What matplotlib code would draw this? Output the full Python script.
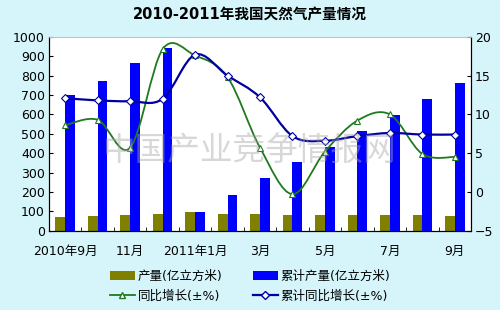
import matplotlib
matplotlib.use("Agg")
import matplotlib.pyplot as plt
from matplotlib.path import Path
from matplotlib.patches import PathPatch
from matplotlib.lines import Line2D
from matplotlib.patches import Patch
import numpy as np

plt.rcParams['font.family'] = ['DejaVu Sans', 'Noto Sans CJK SC']

months = ["2010年9月", "10月", "11月", "12月", "2011年1月", "2月", "3月", "4月",
          "5月", "6月", "7月", "8月", "9月"]
output = [72, 76, 83, 88, 96, 88, 86, 83, 83, 83, 83, 83, 76]
cumulative = [700, 773, 866, 945, 96, 184, 272, 356, 430, 515, 599, 682, 764]
yoy = [8.6, 9.3, 5.7, 18.4, 17.6, 14.8, 5.7, -0.3, 5.2, 9.2, 10.0, 4.9, 4.5]
cum_yoy = [12.1, 11.8, 11.7, 12.0, 17.7, 15.0, 12.2, 7.2, 6.6, 7.2, 7.6, 7.4, 7.4]

bg = '#d6f5fa'
fig = plt.figure(figsize=(5, 3.1), dpi=100, facecolor=bg)
ax = fig.add_axes([0.098, 0.256, 0.844, 0.625])
ax.set_facecolor('white')
ax2 = ax.twinx()

x = np.arange(len(months))
w = 0.3
ax.bar(x - w / 2, output, width=w, color='#808000', zorder=2)
ax.bar(x + w / 2, cumulative, width=w, color='#0000ff', zorder=2)

ax.set_xlim(-0.5, len(months) - 0.5)
ax.set_ylim(0, 1000)
ax.set_yticks(range(0, 1001, 100))
ax2.set_ylim(-5, 20)
ax2.set_yticks(range(-5, 21, 5))

ax.set_xticks(x[::2])
ax.set_xticklabels([months[i] for i in x[::2]])
ax.set_xticks(np.arange(-0.5, len(months), 1), minor=True)
ax.tick_params(axis='x', which='major', length=0, labelsize=9, pad=10)
ax.tick_params(axis='x', which='minor', length=3, direction='in')
ax.tick_params(axis='y', length=3, direction='in', labelsize=9, pad=3)
ax2.tick_params(axis='y', length=3, direction='in', labelsize=9, pad=3)

for a in (ax, ax2):
    a.spines['top'].set_color('#c0c0c0')
    a.spines['top'].set_linewidth(0.6)
    for s in ('left', 'right', 'bottom'):
        a.spines[s].set_color('black')
        a.spines[s].set_linewidth(0.8)


def smooth_path(xs, ys):
    pts = np.column_stack([xs, ys]).astype(float)
    n = len(pts)
    verts = [pts[0]]
    codes = [Path.MOVETO]
    for i in range(n - 1):
        p0 = pts[i - 1] if i > 0 else pts[i]
        p1 = pts[i]
        p2 = pts[i + 1]
        p3 = pts[i + 2] if i + 2 < n else pts[i + 1]
        c1 = p1 + (p2 - p0) / 6.0
        c2 = p2 - (p3 - p1) / 6.0
        verts += [c1, c2, p2]
        codes += [Path.CURVE4] * 3
    return Path(verts, codes)


green = '#1f7a1f'
navy = '#0000a0'
ax2.add_patch(PathPatch(smooth_path(x, yoy), facecolor='none', edgecolor=green, lw=1.3, zorder=3))
ax2.add_patch(PathPatch(smooth_path(x, cum_yoy), facecolor='none', edgecolor=navy, lw=1.6, zorder=3))
ax2.plot(x, yoy, linestyle='none', marker='^', ms=5, mfc='white', mec=green, mew=0.8, zorder=4)
ax2.plot(x, cum_yoy, linestyle='none', marker='D', ms=4, mfc='white', mec=navy, mew=0.8, zorder=4)

fig.text(0.5, 0.952, "2010-2011年我国天然气产量情况", ha='center', va='center',
         fontsize=10.5, fontweight='bold')
fig.text(0.5, 0.515, "中国产业竞争情报网", ha='center', va='center', fontsize=23.5,
         color='#a8a8a8', alpha=0.45, zorder=10)

handles = [Patch(facecolor='#808000'), Patch(facecolor='#0000ff'),
           Line2D([], [], color=green, marker='^', mfc='white', mec=green, ms=5, lw=1.3),
           Line2D([], [], color=navy, marker='D', mfc='white', mec=navy, ms=4, lw=1.6)]
labels = ["产量(亿立方米)", "累计产量(亿立方米)", "同比增长(±%)", "累计同比增长(±%)"]
leg = fig.legend([handles[i] for i in [0, 2, 1, 3]], [labels[i] for i in [0, 2, 1, 3]],
                 ncol=2, loc='center', bbox_to_anchor=(0.5, 0.077), frameon=False,
                 fontsize=9, handlelength=2.0, handletextpad=0.25, columnspacing=2.4,
                 labelspacing=0.55)

fig.savefig("out.png", dpi=100, facecolor=bg)
